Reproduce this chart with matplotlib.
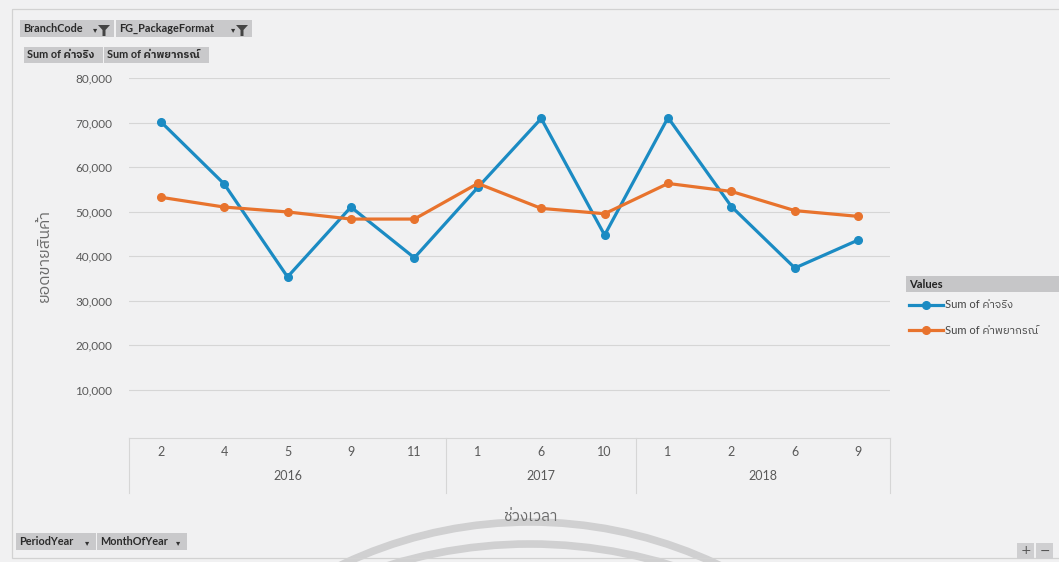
import matplotlib
matplotlib.use("Agg")
import matplotlib.pyplot as plt
from matplotlib import font_manager as fm
from matplotlib.ft2font import FT2Font
from matplotlib.patches import Rectangle, Arc, Polygon

# data: monthly sales, actual vs forecast
years = ["2016", "2017", "2018"]
months = ["2", "4", "5", "9", "11", "1", "6", "10", "1", "2", "6", "9"]
months_per_year = [5, 3, 4]
actual = [70200, 56200, 35300, 51000, 39600, 55400, 70900, 44700, 71100, 51100, 37300, 43600]
forecast = [53200, 51000, 49900, 48300, 48300, 56300, 50700, 49500, 56300, 54500, 50200, 48900]
series_names = ["Sum of ค่าจริง", "Sum of ค่าพยากรณ์"]
y_title = "ยอดขายสินค้า"
x_title = "ช่วงเวลา"
top_buttons = ["BranchCode", "FG_PackageFormat"]
bottom_buttons = ["PeriodYear", "MonthOfYear"]


def find_thai_font():
    fonts = sorted(fm.fontManager.ttflist, key=lambda f: "thai" not in f.name.lower())
    seen = set()
    for f in fonts:
        if f.name in seen:
            continue
        seen.add(f.name)
        try:
            if 0x0E04 in FT2Font(f.fname).get_charmap():
                return f.name
        except Exception:
            pass
    return "DejaVu Sans"


thai = find_thai_font()
FAM = ["Lato", thai, "DejaVu Sans"]
plt.rcParams["font.family"] = FAM

BLUE = "#1b8bc3"
ORANGE = "#e8732d"
BG = "#f1f1f2"
TXT = "#595959"

W, H = 1059, 562
fig = plt.figure(figsize=(W / 100, H / 100), dpi=100, facecolor=BG)

# overlay in pixel coordinates for the pivot-chart decorations
ov = fig.add_axes([0, 0, 1, 1], zorder=0)
ov.set_xlim(0, W)
ov.set_ylim(H, 0)
ov.axis("off")

ax = fig.add_axes([129 / W, 1 - 434 / H, (890 - 129) / W, (434 - 78) / H], zorder=1)
ax.set_facecolor("none")

x = list(range(len(months)))
ax.plot(x, actual, color=BLUE, lw=2.3, marker="o", ms=5.5, zorder=3)
ax.plot(x, forecast, color=ORANGE, lw=2.3, marker="o", ms=5.5, zorder=3)

ax.set_xlim(-0.5, len(months) - 0.5)
ax.set_ylim(0, 80000)
ax.set_yticks(range(10000, 80001, 10000))
ax.set_yticklabels([f"{v:,}" for v in range(10000, 80001, 10000)])
ax.grid(axis="y", color="#d6d6d6", lw=0.8)
ax.set_axisbelow(True)
for s in ax.spines.values():
    s.set_visible(False)
ax.tick_params(axis="y", length=0, pad=12, labelsize=8.5, labelcolor=TXT)
ax.set_xticks(x)
ax.set_xticklabels(months)
ax.tick_params(axis="x", length=0, pad=9, labelsize=9, labelcolor=TXT)

# category axis box with year groups
xt = ax.get_xaxis_transform()
ax.plot([-0.5, len(months) - 0.5], [-0.012, -0.012], transform=xt, color="#d6d6d6",
        lw=0.8, clip_on=False)
edges = [-0.5]
for n in months_per_year:
    edges.append(edges[-1] + n)
for e in edges:
    ax.plot([e, e], [-0.012, -0.165], transform=xt, color="#d6d6d6", lw=0.8, clip_on=False)
for yr, a, b in zip(years, edges[:-1], edges[1:]):
    ax.text((a + b) / 2, -0.118, yr, transform=xt, ha="center", va="center",
            fontsize=9, color=TXT)

ax.set_ylabel(y_title, fontsize=11.5, color="#6a6a6a", labelpad=17)
ov.text(530, 517, x_title, ha="center", va="center", fontsize=11, color="#6a6a6a")

# outer frame
ov.add_patch(Rectangle((12, 9), 1070, 549, fill=False, ec="#d2d2d2", lw=0.9))


def field_button(x0, y0, w, h, label, funnel=False):
    ov.add_patch(Rectangle((x0, y0), w, h, fc="#c9c9cb", ec="none"))
    ov.text(x0 + 3, y0 + h / 2, label, ha="left", va="center", fontsize=7.8,
            color="#2a2a2a", fontweight="bold")
    if funnel:
        ov.text(x0 + w - 19, y0 + h / 2 + 1, "▾", ha="center", va="center",
                fontsize=6, color="#333333", family="DejaVu Sans")
        fx, fy = x0 + w - 10, y0 + 5
        ov.add_patch(Polygon([(fx - 6, fy), (fx + 6, fy), (fx + 1.5, fy + 5),
                              (fx + 1.5, fy + 11), (fx - 1.5, fy + 11), (fx - 1.5, fy + 5)],
                             closed=True, fc="#444444", ec="none"))
    elif funnel is None:
        ov.text(x0 + w - 9, y0 + h / 2 + 1, "▾", ha="center", va="center",
                fontsize=6, color="#333333", family="DejaVu Sans")


field_button(20, 20, 94, 17, top_buttons[0], funnel=True)
field_button(116, 20, 136, 17, top_buttons[1], funnel=True)
field_button(24, 47, 79, 16, series_names[0], funnel=False)
field_button(104, 47, 105, 16, series_names[1], funnel=False)
field_button(16, 533, 80, 17, bottom_buttons[0], funnel=None)
field_button(97, 533, 90, 17, bottom_buttons[1], funnel=None)

# zoom buttons
for bx, sym in [(1017, "+"), (1036, "−")]:
    ov.add_patch(Rectangle((bx, 543), 17, 16, fc="#cfcfd1", ec="none"))
    ov.text(bx + 8.5, 551, sym, ha="center", va="center", fontsize=9, color="#555555",
            family="DejaVu Sans")

# legend
ov.add_patch(Rectangle((906, 276), 160, 16, fc="#c6c6c8", ec="none"))
ov.text(909, 284, "Values", ha="left", va="center", fontsize=8, fontweight="bold",
        color="#222222")
for yy, col, name in [(305, BLUE, series_names[0]), (330, ORANGE, series_names[1])]:
    ov.plot([909, 943], [yy, yy], color=col, lw=2.3)
    ov.plot([926], [yy], marker="o", ms=5.5, color=col)
    ov.text(945, yy, name, ha="left", va="center", fontsize=8, color="#444444")

# faint stamp arcs along the bottom edge
ov.add_patch(Arc((530, 522 + 437), 2 * 437, 2 * 437, theta1=180, theta2=360,
                 color="#d0d0d1", lw=5.5, zorder=0))
ov.add_patch(Arc((530, 544 + 479), 2 * 479, 2 * 479, theta1=180, theta2=360,
                 color="#d0d0d1", lw=5.5, zorder=0))

fig.savefig("out.png", dpi=100, facecolor=BG)
